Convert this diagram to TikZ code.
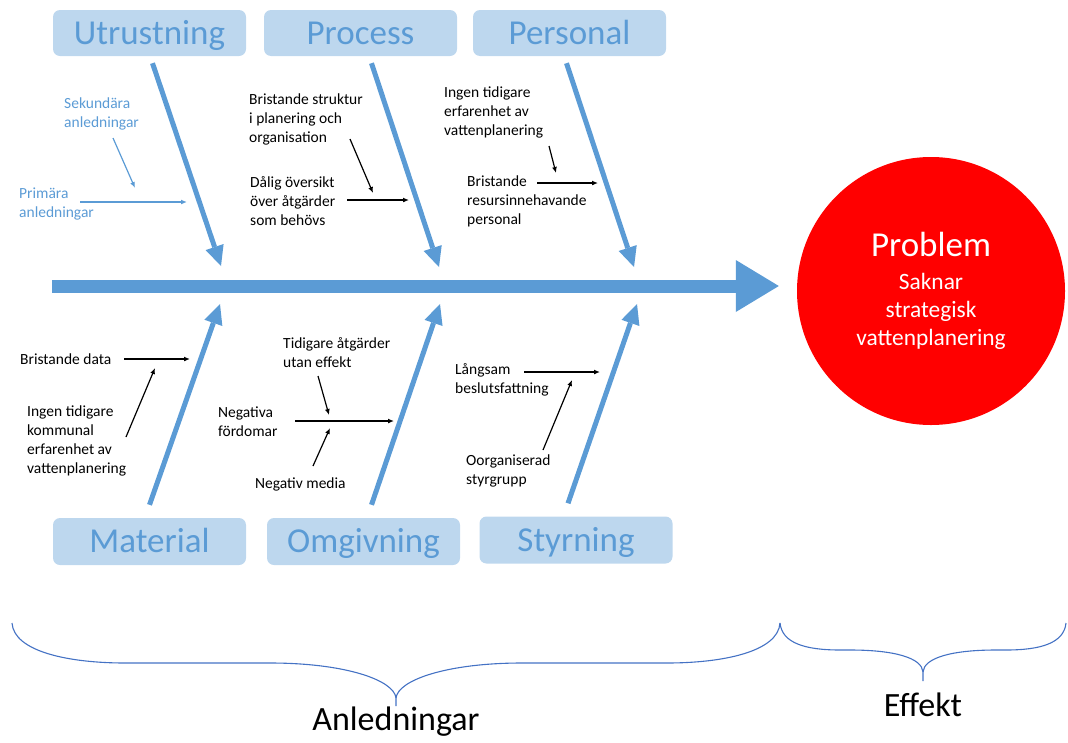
\documentclass[tikz,border=0pt]{standalone}
\usepackage{fontspec}
\setmainfont{Carlito}
\usepackage{tikz}
\usetikzlibrary{arrows.meta,positioning}
\definecolor{bonecol}{HTML}{5B9BD5}
\definecolor{boxcol}{HTML}{BDD7EE}
\definecolor{bracecol}{HTML}{4472C4}

\begin{document}
\begin{tikzpicture}[x=1pt, y=-1pt,
    cat/.style={rectangle, rounded corners=7pt, fill=boxcol, text=bonecol, minimum width=193pt, minimum height=46pt, text height=22pt, text depth=0pt, font=\fontsize{35}{40}\selectfont},
    cause/.style={align=left, inner sep=0pt, font=\fontsize{15.5}{19}\selectfont},
    bone/.style={bonecol, line width=5pt, -{Triangle[length=20pt, width=19pt, line width=0pt]}},
    spine/.style={bonecol, line width=13pt, -{Triangle[length=43pt, width=52pt, line width=0pt]}},
    cl/.style={black, line width=1.2pt, -{Latex[length=6pt, width=5pt]}},
    bl/.style={bonecol, line width=1.2pt, -{Latex[length=6pt, width=5pt]}},
    brace/.style={bracecol, line width=1.1pt}]

    \useasboundingbox (0,0) rectangle (1068,742);

    % huvudgrupper
    \node[cat] (utr) at (149.5,33) {Utrustning};
    \node[cat] (pro) at (360.5,33) {Process};
    \node[cat] (per) at (569.5,33) {Personal};
    \node[cat, minimum height=47pt] (mat) at (149.5,541.5) {Material};
    \node[cat, minimum height=47pt] (omg) at (363.5,541.5) {Omgivning};
    \node[cat, minimum height=47pt] (sty) at (576,540) {Styrning};

    % effekt
    \node[circle, fill=red, minimum size=268pt, inner sep=0pt, text=white, align=center, font=\fontsize{23.4}{28}\selectfont] (prob) at (931,291)
        {{\fontsize{35}{40}\selectfont Problem}\\[5pt]Saknar\\strategisk\\vattenplanering};

    % ryggrad
    \coordinate (sp) at (52,286);
    \draw[spine, shorten >=18pt] (sp) -- (sp -| prob.west);

    % ben
    \foreach \n/\x/\y in {utr-t/221/266, pro-t/439/267, per-t/634/267, mat-t/220/304, omg-t/440/304, sty-t/637/304}{
        \coordinate (\n) at (\x,\y);
    }
    \foreach \b/\dx in {utr/3, pro/11, per/-3}{
        \draw[bone] (\b.south) ++(\dx,7) -- (\b-t);
    }
    \foreach \b/\dx in {mat/0, omg/8, sty/-8}{
        \draw[bone] (\b.north) ++(\dx,-13) -- (\b-t);
    }

    % orsaker
    \node[cause, anchor=west, text=bonecol] (sek) at (64,114) {Sekundära\\anledningar};
    \node[cause, anchor=west, text=bonecol] (prim) at (19,204) {Primära\\anledningar};
    \node[cause, anchor=west] (bstr) at (249,119) {Bristande struktur\\i planering och\\organisation};
    \node[cause, anchor=west] (dalig) at (250,201) {Dålig översikt\\över åtgärder\\som behövs};
    \node[cause, anchor=west] (ingen) at (444,112) {Ingen tidigare\\erfarenhet av\\vattenplanering};
    \node[cause, anchor=west] (bres) at (467,201) {Bristande\\resursinnehavande\\personal};
    \node[cause, anchor=west] (bdata) at (20,359) {Bristande data};
    \node[cause, anchor=west] (ingenk) at (27,441) {Ingen tidigare\\kommunal\\erfarenhet av\\vattenplanering};
    \node[cause, anchor=west] (tidig) at (283,353) {Tidigare åtgärder\\utan effekt};
    \node[cause, anchor=west] (negf) at (218,422) {Negativa\\fördomar};
    \node[cause, anchor=west] (negm) at (255,484) {Negativ media};
    \node[cause, anchor=west] (lang) at (455,380) {Långsam\\beslutsfattning};
    \node[cause, anchor=west] (oorg) at (466,471) {Oorganiserad\\styrgrupp};

    \foreach \n/\x/\y in {sek-a/113/138, sek-b/135/188, prim-a/80/202, prim-b/187/202,
        bstr-a/350/139, bstr-b/373/193, dalig-a/347/200, dalig-b/409/200,
        ingen-a/549/146, ingen-b/556/173, bres-a/537/183, bres-b/598/183,
        bdata-a/124/359, bdata-b/190/359, ingenk-a/126/437, ingenk-b/155/368,
        tidig-a/318/376, tidig-b/329/415, negf-a/295/421, negf-b/394/421,
        negm-a/313/466, negm-b/330/428, lang-a/524/372, lang-b/600/372,
        oorg-a/543/450, oorg-b/572/380}{
        \coordinate (\n) at (\x,\y);
    }
    \foreach \s/\d in {sek-a/sek-b, prim-a/prim-b}{
        \draw[bl] (\s) -- (\d);
    }
    \foreach \s/\d in {bstr-a/bstr-b, dalig-a/dalig-b, ingen-a/ingen-b, bres-a/bres-b, bdata-a/bdata-b, ingenk-a/ingenk-b,
        tidig-a/tidig-b, negf-a/negf-b, negm-a/negm-b, lang-a/lang-b, oorg-a/oorg-b}{
        \draw[cl] (\s) -- (\d);
    }

    % klammer
    \coordinate (anl-tip) at (396,706);
    \coordinate (eff-tip) at (923,681);
    \draw[brace] (12,623) .. controls (14,652) and (70,663) .. (125,663) -- (270,663)
        .. controls (345,663) and (394,680) .. (396,698) -- (anl-tip);
    \draw[brace] (780,623) .. controls (778,652) and (722,663) .. (667,663) -- (522,663)
        .. controls (447,663) and (398,680) .. (396,698);
    \draw[brace] (780,623) .. controls (782,643) and (805,650) .. (840,650) -- (850,650)
        .. controls (895,650) and (922,658) .. (923,672) -- (eff-tip);
    \draw[brace] (1066,623) .. controls (1064,643) and (1041,650) .. (1006,650) -- (996,650)
        .. controls (951,650) and (924,658) .. (923,672);
    \node[below=1pt of anl-tip, inner sep=0pt, font=\fontsize{34}{40}\selectfont] (anl) {Anledningar};
    \node[below=12pt of eff-tip, inner sep=0pt, font=\fontsize{34}{40}\selectfont] (eff) {Effekt};

\end{tikzpicture}
\end{document}
